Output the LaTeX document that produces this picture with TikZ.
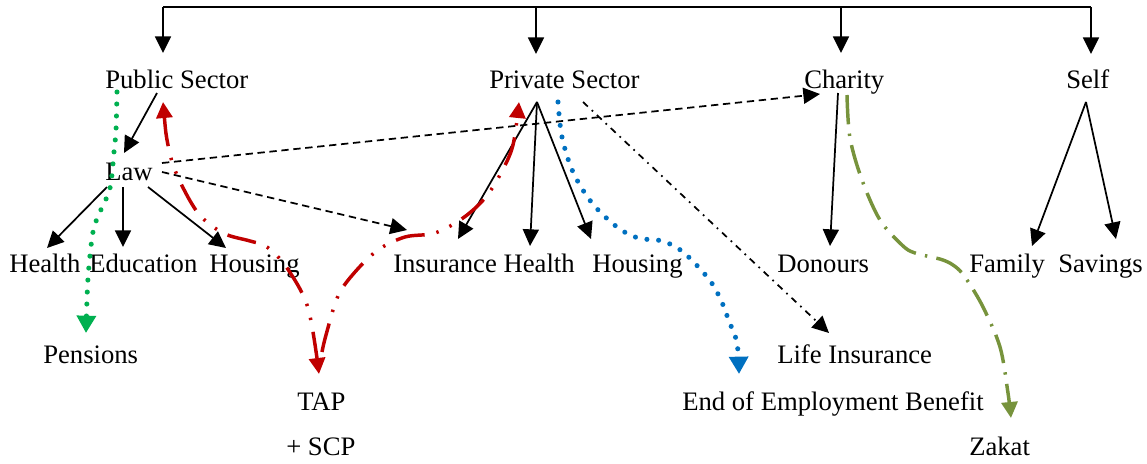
\documentclass[tikz,border=0pt]{standalone}
\usepackage{fontspec}
\setmainfont{Liberation Serif}
\usetikzlibrary{arrows.meta}
\definecolor{cred}{HTML}{C00000}
\definecolor{cgreen}{HTML}{00B050}
\definecolor{cblue}{HTML}{0070C0}
\definecolor{colive}{HTML}{77933C}
\begin{document}
\begin{tikzpicture}[x=0.75pt,y=-0.75pt,
  lbl/.style={anchor=base west,inner sep=0pt,font=\fontsize{20}{24}\selectfont},
  blk/.style={line width=1.3pt,-{Triangle[length=12.5pt,width=12pt]}},
  dsh/.style={blk,dash pattern=on 5.5pt off 3.5pt},
  dshdot/.style={blk,dash pattern=on 5pt off 4pt on 1.3pt off 4pt},
  redc/.style={draw=cred,line width=2.6pt,dash pattern=on 22pt off 9pt on 1.8pt off 9pt on 1.8pt off 9pt},
  redboth/.style={redc,{Triangle[length=12pt,width=12pt,fill=cred]}-{Triangle[length=12pt,width=12pt,fill=cred]}},
  redend/.style={redc,-{Triangle[length=12pt,width=12pt,fill=cred]}},
  greenc/.style={draw=cgreen,line width=3.8pt,line cap=round,dash pattern=on 0pt off 9pt,
    -{Triangle[length=13pt,width=14pt,fill=cgreen,line cap=butt]}},
  bluec/.style={draw=cblue,line width=3.8pt,line cap=round,dash pattern=on 0pt off 8.8pt,
    -{Triangle[length=13pt,width=14pt,fill=cblue,line cap=butt]}},
  olivec/.style={draw=colive,line width=2.6pt,dash pattern=on 22pt off 7pt on 1.8pt off 7pt,
    -{Triangle[length=12pt,width=12pt,fill=colive]}}
]
\useasboundingbox (0,0) rectangle (1147,464);
% labels
\node[lbl] (pub) at (105,88) {Public Sector};
\node[lbl] (priv) at (489,88) {Private Sector};
\node[lbl] (char) at (804,88) {Charity};
\node[lbl] (self) at (1066,88) {Self};
\node[lbl] (law) at (105,180) {Law};
\node[lbl] (health) at (9,272) {Health};
\node[lbl] (edu) at (89,272) {Education};
\node[lbl] (hous1) at (209,272) {Housing};
\node[lbl] (insh) at (393,272) {Insurance Health};
\node[lbl] (hous2) at (592,272) {Housing};
\node[lbl] (don) at (777,272) {Donours};
\node[lbl] (fam) at (969,272) {Family};
\node[lbl] (sav) at (1058,272) {Savings};
\node[lbl] (pen) at (43,363) {Pensions};
\node[lbl] (life) at (777,363) {Life Insurance};
\node[lbl] (tap) at (297,410) {TAP};
\node[lbl] (scp) at (286,455) {+ SCP};
\node[lbl] (eoeb) at (682,410) {End of Employment Benefit};
\node[lbl] (zak) at (969,455) {Zakat};
% connector end points
\coordinate (tL) at (163,7);
\coordinate (tP) at (536,7);
\coordinate (tC) at (841,7);
\coordinate (tR) at (1091,7);
\coordinate (pubIn) at (163,53);
\coordinate (privIn) at (536,54);
\coordinate (charIn) at (841,53);
\coordinate (selfIn) at (1091,54);
\coordinate (pubOut) at (157,93);
\coordinate (lawIn) at (124,153);
\coordinate (lawA) at (107,187);
\coordinate (lawB) at (123,187);
\coordinate (lawC) at (148,187);
\coordinate (lawD) at (162,163);
\coordinate (lawE) at (162,172);
\coordinate (healthIn) at (47,248);
\coordinate (eduIn) at (123,247);
\coordinate (hous1In) at (226,248);
\coordinate (charDIn) at (820,94);
\coordinate (inshIn) at (407,230);
\coordinate (privOut) at (537,102);
\coordinate (privOut2) at (583,102);
\coordinate (inshIn2) at (458,239);
\coordinate (healthIn2) at (530,246);
\coordinate (hous2In) at (591,239);
\coordinate (lifeIn) at (829,333);
\coordinate (charOut) at (838,93);
\coordinate (donIn) at (830,246);
\coordinate (selfOut) at (1086,102);
\coordinate (famIn) at (1032,246);
\coordinate (savIn) at (1116,239);
\coordinate (pubRed) at (163,102);
\coordinate (tapRed) at (319,374);
\coordinate (tapRed2) at (322,352);
\coordinate (privRed) at (519,102);
\coordinate (pubGreen) at (117,92);
\coordinate (penIn) at (86,333);
\coordinate (privBlue) at (558,102);
\coordinate (eoebIn) at (739,374);
\coordinate (charOlive) at (847,95);
\coordinate (zakIn) at (1011,418);
% top bracket
\draw[line width=1.3pt] (tL) -- (tR);
\draw[blk] (tL) -- (pubIn);
\draw[blk] (tP) -- (privIn);
\draw[blk] (tC) -- (charIn);
\draw[blk] (tR) -- (selfIn);
% black arrows
\draw[blk] (pubOut) -- (lawIn);
\draw[blk] (lawA) -- (healthIn);
\draw[blk] (lawB) -- (eduIn);
\draw[blk] (lawC) -- (hous1In);
\draw[dsh] (lawD) -- (charDIn);
\draw[dsh] (lawE) -- (inshIn);
\draw[blk] (privOut) -- (inshIn2);
\draw[blk] (privOut) -- (healthIn2);
\draw[blk] (privOut) -- (hous2In);
\draw[dshdot] (privOut2) -- (lifeIn);
\draw[blk] (charOut) -- (donIn);
\draw[blk] (selfOut) -- (famIn);
\draw[blk] (selfOut) -- (savIn);
% coloured curves
\draw[redboth] plot[smooth,tension=0.55] coordinates {(pubRed) (168,145) (177,175) (198,213) (223,233) (250,241) (267,247) (287,268) (308,308) (tapRed)};
\draw[redend] plot[smooth,tension=0.55] coordinates {(tapRed2) (326,335) (338,296) (355,272) (378,250) (405,237) (435,233) (463,218) (485,198) (501,173) (513,145) (privRed)};
\draw[greenc] plot[smooth,tension=0.55] coordinates {(pubGreen) (116,130) (114,152) (110,188) (100,212) (93,232) (88,278) (penIn)};
\draw[bluec] plot[smooth,tension=0.55] coordinates {(privBlue) (562,137) (573,172) (592,203) (617,227) (638,238) (662,241) (683,252) (708,278) (720,298) (729,321) (737,343) (eoebIn)};
\draw[olivec] plot[smooth,tension=0.55] coordinates {(charOlive) (850,138) (862,180) (880,220) (902,245) (915,253) (943,260) (957,268) (967,280) (983,307) (1000,347) (1008,393) (zakIn)};
\end{tikzpicture}
\end{document}
